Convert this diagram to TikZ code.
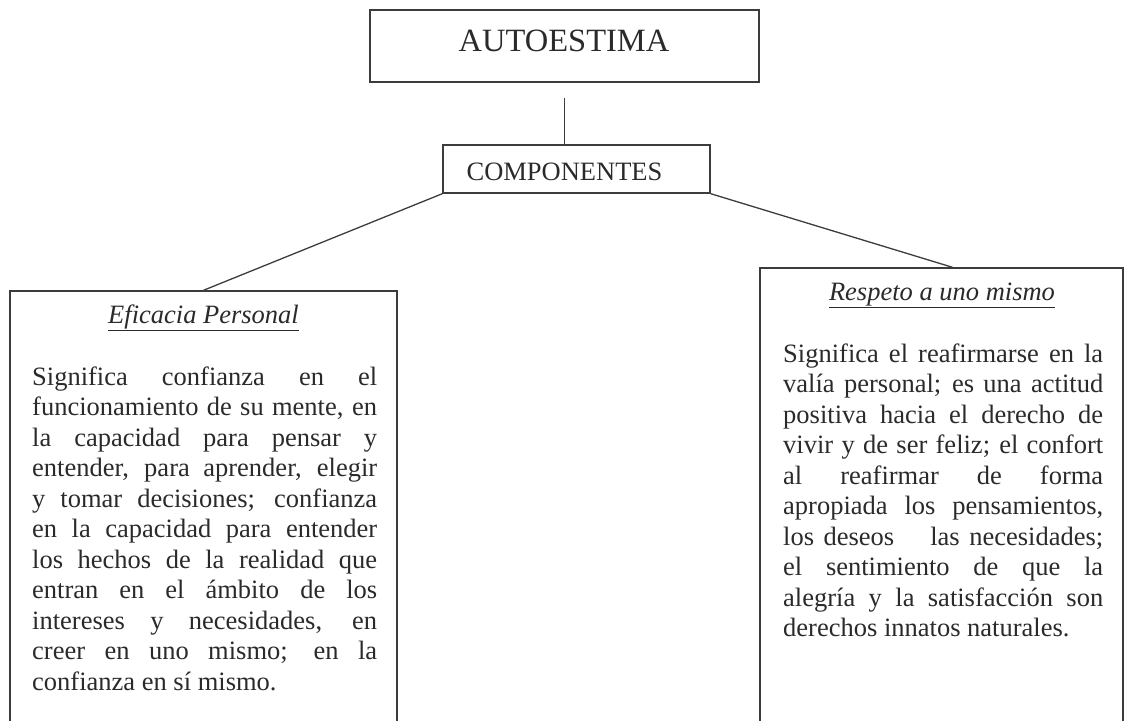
\documentclass[tikz,border=0pt]{standalone}
\usepackage{fontspec}
\setmainfont{Liberation Serif}
\usepackage{xcolor}
\usetikzlibrary{positioning}
\definecolor{SCANink}{HTML}{2A2A2A}
\definecolor{SCANline}{HTML}{3C3C3C}
\tolerance=10000
\hyphenpenalty=10000

\begin{document}
\begin{tikzpicture}[x=1pt,y=-1pt,
    frame/.style={rectangle, draw=SCANline, line width=1.4pt, inner sep=0pt},
    link/.style={draw=SCANline, line width=1.3pt},
    title/.style={SCANink, inner sep=0pt, anchor=base},
    body/.style={SCANink, inner sep=0pt, anchor=base west, align=justify,
                 font=\fontsize{26.5}{30.5}\selectfont}]
          \useasboundingbox (0,0) rectangle (1124,720);
          \clip (0,0) rectangle (1124,720);
          % boxes
          \node[frame, minimum width=389pt, minimum height=72pt] (autoestima) at (564.5,46) {};
          \node[frame, minimum width=267pt, minimum height=48pt] (componentes) at (576.5,169) {};
          \node[frame, minimum width=387pt, minimum height=449pt] (eficacia) at (203.5,515.5) {};
          \node[frame, minimum width=363pt, minimum height=472pt] (respeto) at (941.5,504) {};
          % titles
          \node[title, font=\fontsize{32.5}{36}\selectfont] (autoestimaT) at (564,51) {AUTOESTIMA};
          \node[title, font=\fontsize{26.5}{30}\selectfont] (componentesT) at (564.5,180) {COMPONENTES};
          \node[title, font=\fontsize{26.5}{30}\selectfont\itshape] (eficaciaT) at (203.5,323) {\underline{Eficacia Personal}};
          \node[title, font=\fontsize{26.5}{30}\selectfont\itshape] (respetoT) at (942,300) {\underline{Respeto a uno mismo}};
          % texts
          \node[body, text width=345pt] (eficaciaB) at (32,385) {%
            Significa confianza en el\linebreak
            funcionamiento de su mente, en\linebreak
            la capacidad para pensar y\linebreak
            entender, para aprender, elegir\linebreak
            y tomar decisiones; confianza\linebreak
            en la capacidad para entender\linebreak
            los hechos de la realidad que\linebreak
            entran en el ámbito de los\linebreak
            intereses y necesidades, en\linebreak
            creer en uno mismo; en la\linebreak
            confianza en sí mismo.};
          \node[body, text width=320pt] (respetoB) at (783,362) {%
            Significa el reafirmarse en la\linebreak
            valía personal; es una actitud\linebreak
            positiva hacia el derecho de\linebreak
            vivir y de ser feliz; el confort\linebreak
            al reafirmar de forma\linebreak
            apropiada los pensamientos,\linebreak
            los deseos \quad las necesidades;\linebreak
            el sentimiento de que la\linebreak
            alegría y la satisfacción son\linebreak
            derechos innatos naturales.};
          % connectors
          \draw[link, shorten <=15pt] (autoestima.south) -- (autoestima.south |- componentes.north);
          \draw[link] (componentes.south west) -- (eficacia.north);
          \draw[link] (componentes.south east) -- ([xshift=11pt]respeto.north);
        \end{tikzpicture}
\end{document}
